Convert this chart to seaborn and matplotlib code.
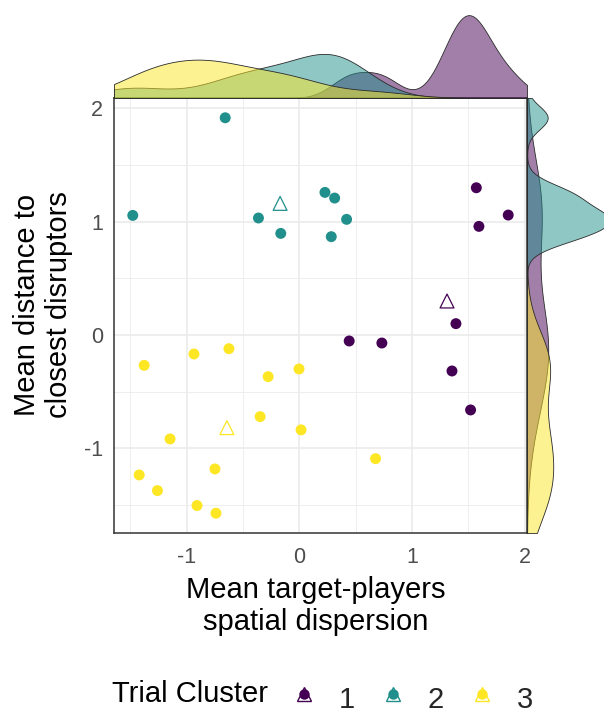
import numpy as np
import pandas as pd
import matplotlib
matplotlib.use("Agg")
import matplotlib.pyplot as plt
from matplotlib.lines import Line2D
from matplotlib.legend_handler import HandlerTuple
import seaborn as sns

# ---------------- data ----------------
clusters = ["1", "2", "3"]
palette = ["#440154", "#21908C", "#FDE725"]

cluster1_x = [1.570, 1.853, 1.593, 1.389, 0.442, 0.732, 1.354, 1.519]
cluster1_y = [1.300, 1.059, 0.959, 0.100, -0.053, -0.071, -0.318, -0.662]
cluster2_x = [-0.658, -1.478, -0.363, -0.165, 0.227, 0.313, 0.419, 0.283]
cluster2_y = [1.918, 1.056, 1.033, 0.897, 1.259, 1.209, 1.021, 0.868]
cluster3_x = [-1.377, -0.935, -0.625, -0.277, -0.003, -0.348, 0.015, -1.147,
              0.676, -1.421, -1.259, -0.749, -0.908, -0.740]
cluster3_y = [-0.268, -0.168, -0.121, -0.368, -0.300, -0.721, -0.838, -0.918,
              -1.092, -1.236, -1.374, -1.183, -1.506, -1.574]
centroid_x = [1.310, -0.171, -0.643]
centroid_y = [0.300, 1.162, -0.818]

x_ticks = [-1, 0, 1, 2]
y_ticks = [-1, 0, 1, 2]
x_title = "Mean target-players\nspatial dispersion"
y_title = "Mean distance to\nclosest disruptors"
legend_title = "Trial Cluster"

# ---------------- tables ----------------
xs = [cluster1_x, cluster2_x, cluster3_x]
ys = [cluster1_y, cluster2_y, cluster3_y]
points = pd.DataFrame({
    "x": sum(xs, []),
    "y": sum(ys, []),
    "cluster": sum([[c] * len(v) for c, v in zip(clusters, xs)], []),
})
cents = pd.DataFrame({"x": centroid_x, "y": centroid_y, "cluster": clusters})

# ---------------- style ----------------
sns.set_style("white")
plt.rcParams["font.family"] = ["Liberation Sans", "DejaVu Sans"]

W, H, DPI = 604, 713, 100
fig = plt.figure(figsize=(W / DPI, H / DPI), dpi=DPI)

def fx(px):
    return px / W

def fy(py):
    return (H - py) / H

pl, pr, pt, pb = 114, 527, 98, 533
ax = fig.add_axes([fx(pl), fy(pb), fx(pr - pl), (pb - pt) / H])

sns.scatterplot(data=points, x="x", y="y", hue="cluster", hue_order=clusters,
                palette=palette, s=62, linewidth=0, ax=ax, legend=False, zorder=3)
sns.scatterplot(data=cents, x="x", y="y", hue="cluster", hue_order=clusters,
                palette=palette, marker="^", s=100, ax=ax, legend=False, zorder=3)
tri = ax.collections[-1]
fcs = tri.get_facecolors()
tri.set_facecolors("none")
tri.set_edgecolors(fcs)
tri.set_linewidths(0.9)

allx = points["x"].to_numpy()
ally = points["y"].to_numpy()
ex = 0.05 * (allx.max() - allx.min())
ey = 0.05 * (ally.max() - ally.min())
xlim = (allx.min() - ex, allx.max() + ex)
ylim = (ally.min() - ey, ally.max() + ey)
ax.set_xlim(xlim)
ax.set_ylim(ylim)

ax.set_xticks(x_ticks)
ax.set_yticks(y_ticks)
ax.set_xticks([-1.5, -0.5, 0.5, 1.5], minor=True)
ax.set_yticks([-1.5, -0.5, 0.5, 1.5], minor=True)
ax.grid(which="major", color="#EBEBEB", linewidth=1.2)
ax.grid(which="minor", color="#EBEBEB", linewidth=0.6)
ax.set_axisbelow(True)
for s in ax.spines.values():
    s.set_color("#333333")
    s.set_linewidth(1.1)
ax.tick_params(which="major", direction="out", length=4, width=1.0,
               color="#333333", labelcolor="#4D4D4D", labelsize=15.5)
ax.tick_params(axis="x", pad=6)
ax.tick_params(axis="y", pad=4)
ax.tick_params(which="minor", length=0)
ax.set_xticklabels([str(t) for t in x_ticks])
ax.set_yticklabels([str(t) for t in y_ticks])

ax.set_xlabel(x_title, fontsize=21, color="black", linespacing=1.17)
ax.set_ylabel(y_title, fontsize=21, color="black", linespacing=1.17)
ax.xaxis.set_label_coords((316 - pl) / (pr - pl), (pb - 576) / (pb - pt))
ax.yaxis.set_label_coords((73 - pl) / (pr - pl), (pb - 305) / (pb - pt))


# ---------------- marginal densities (R bw.nrd0 bandwidth) ----------------
def nrd0_factor(v):
    v = np.asarray(v, float)
    sd = v.std(ddof=1)
    q75, q25 = np.percentile(v, [75, 25])
    lo = min(sd, (q75 - q25) / 1.34)
    return 0.9 * lo * len(v) ** -0.2 / sd

mh = 87
ax_top = fig.add_axes([fx(pl), fy(pt), fx(pr - pl), mh / H])
ax_right = fig.add_axes([fx(pr), fy(pb), fx(mh), (pb - pt) / H])

for c, col, vx, vy in zip(clusters, palette, xs, ys):
    sns.kdeplot(x=vx, ax=ax_top, fill=True, color=col, alpha=0.5,
                bw_method=nrd0_factor(vx), cut=30, clip=xlim, gridsize=500,
                edgecolor="#2a2a2a", linewidth=0.6)
    sns.kdeplot(y=vy, ax=ax_right, fill=True, color=col, alpha=0.5,
                bw_method=nrd0_factor(vy), cut=30, clip=ylim, gridsize=500,
                edgecolor="#2a2a2a", linewidth=0.6)

ax_top.set_xlim(xlim)
ax_top.set_ylim(0, ax_top.dataLim.y1 * 1.05)
ax_right.set_ylim(ylim)
ax_right.set_xlim(0, ax_right.dataLim.x1 * 1.05)
for a in (ax_top, ax_right):
    a.set_axis_off()
    a.patch.set_alpha(0)

# ---------------- legend ----------------
handles = []
for col in palette:
    dot = Line2D([], [], marker="o", linestyle="", markersize=7.5,
                 markerfacecolor=col, markeredgecolor=col, markeredgewidth=0)
    tri_h = Line2D([], [], marker="^", linestyle="", markersize=10,
                   markerfacecolor="none", markeredgecolor=col, markeredgewidth=1.0)
    handles.append((dot, tri_h))
fig.legend(handles, clusters, handler_map={tuple: HandlerTuple(ndivide=1)},
           loc="upper left", bbox_to_anchor=(fx(289.4), fy(681)), ncol=3,
           frameon=False, borderpad=0, borderaxespad=0, fontsize=21,
           handlelength=1.0, handleheight=1.4, handletextpad=0.7,
           columnspacing=0.79)
fig.text(fx(112), fy(702), legend_title, fontsize=21, va="baseline",
         ha="left", color="black")

fig.savefig("out.png", dpi=DPI)
